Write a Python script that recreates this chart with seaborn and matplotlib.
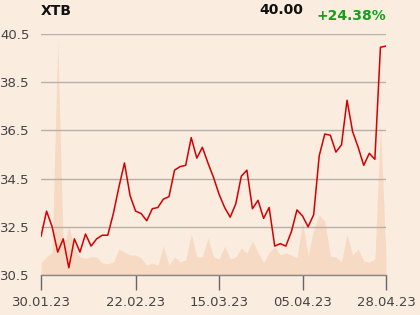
import numpy as np
import pandas as pd
import matplotlib
matplotlib.use("Agg")
import matplotlib.pyplot as plt
import seaborn as sns

# ---- data ----
prices = [32.1, 33.15, 32.5, 31.45, 32.0, 30.8, 32.0, 31.45, 32.2, 31.7,
          32.0, 32.15, 32.15, 33.05, 34.15, 35.15, 33.8, 33.15, 33.05, 32.75,
          33.25, 33.3, 33.65, 33.75, 34.85, 35.0, 35.05, 36.2, 35.35, 35.8,
          35.15, 34.55, 33.85, 33.3, 32.9, 33.45, 34.6, 34.85, 33.25, 33.6,
          32.85, 33.3, 31.7, 31.8, 31.7, 32.3, 33.2, 32.95, 32.5, 33.0,
          35.45, 36.35, 36.3, 35.6, 35.9, 37.75, 36.45, 35.8, 35.05, 35.55,
          35.3, 39.95, 40.0]
volumes = [5.0, 7.5, 9.5, 97.5, 10.4, 20.3, 11.2, 7.5, 7.0, 7.5,
           7.5, 5.0, 4.6, 5.4, 10.8, 9.5, 8.3, 8.3, 7.0, 4.1,
           5.0, 4.1, 12.0, 4.1, 7.5, 5.4, 6.2, 17.0, 7.5, 7.5,
           15.4, 7.5, 6.6, 12.0, 6.6, 7.5, 11.2, 9.1, 14.1, 9.5,
           5.0, 9.5, 11.6, 8.3, 9.1, 8.3, 7.0, 22.0, 8.3, 18.7,
           24.9, 22.4, 7.9, 7.5, 5.4, 17.0, 8.3, 10.8, 5.8, 5.4,
           6.6, 62.7, 7.0]
tick_positions = [0, 17, 32, 47, 62]
tick_labels = ["30.01.23", "22.02.23", "15.03.23", "05.04.23", "28.04.23"]
y_ticks = [30.5, 32.5, 34.5, 36.5, 38.5, 40.5]
title = "XTB"
last_price = "40.00"
change = "+24.38%"

df = pd.DataFrame({"idx": np.arange(len(prices)), "price": prices, "volume": volumes})

bg = "#FBECE0"
sns.set_theme(style="white")
plt.rcParams['font.family'] = ['DejaVu Sans']

fig = plt.figure(figsize=(4.2, 3.15), dpi=100, facecolor=bg)
ax = fig.add_axes([41/420, 1-275/315, (386-41)/420, (275-34)/315])
ax.set_facecolor(bg)

# volume area on a twin axis placed behind
axv = ax.twinx()
axv.fill_between(df["idx"], 0, df["volume"], color="#F7DAC4", linewidth=0)
axv.set_ylim(0, 100)
axv.set_yticks([])
for s in axv.spines.values():
    s.set_visible(False)
axv.set_zorder(0)
ax.set_zorder(1)
ax.patch.set_visible(False)
axv.set_facecolor(bg)

sns.lineplot(data=df, x="idx", y="price", ax=ax, color="#D20000", linewidth=1.1)
ax.set_xlim(0, 62)
ax.set_ylim(30.5, 40.5)
ax.set_yticks(y_ticks)
ax.set_yticklabels([f"{v:.1f}" for v in y_ticks])
ax.set_xticks(tick_positions)
ax.set_xticklabels(tick_labels)
ax.set_xlabel("")
ax.set_ylabel("")
ax.yaxis.grid(True, color="#B5B0AC", linewidth=1.0)
ax.xaxis.grid(False)
for k in ["top", "right", "left"]:
    ax.spines[k].set_visible(False)
ax.spines["bottom"].set_color("#888888")
ax.spines["bottom"].set_linewidth(1.0)
ax.tick_params(axis="y", length=0, pad=8, labelsize=9.5, labelcolor="#444444")
ax.tick_params(axis="x", length=11, width=1.0, color="#666666", pad=4,
               labelsize=9.5, labelcolor="#444444", bottom=True)

fig.text(41/420, 1-11/315, title, fontsize=10, fontweight="bold", color="#111111",
         ha="left", va="center")
fig.text(303/420, 1-10/315, last_price, fontsize=10, fontweight="bold", color="#111111",
         ha="right", va="center")
fig.text(386/420, 1-16/315, change, fontsize=10, fontweight="bold", color="#17A017",
         ha="right", va="center")

fig.savefig("out.png", dpi=100, facecolor=bg)
